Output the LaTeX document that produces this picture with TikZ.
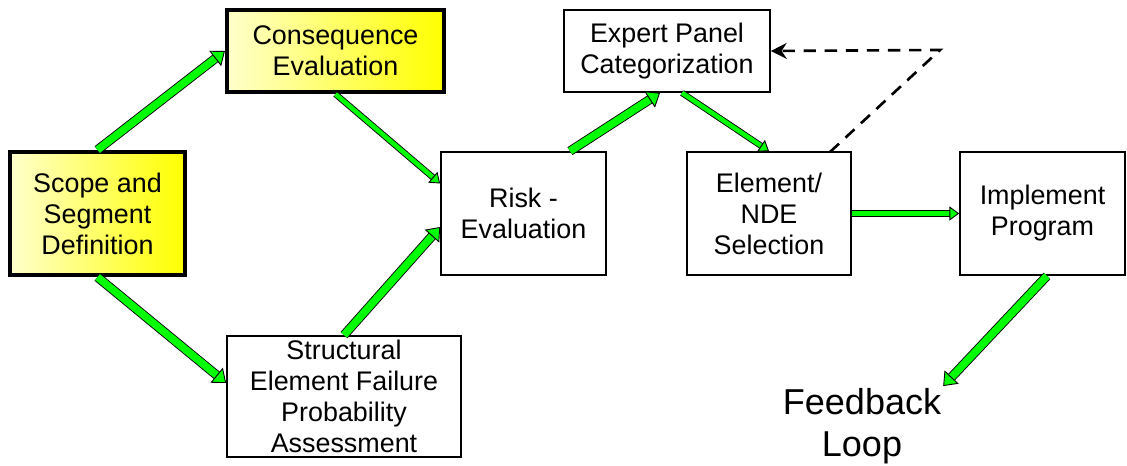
\documentclass[tikz,border=0pt]{standalone}
\usepackage{fontspec}
\setmainfont{Liberation Sans}
\usetikzlibrary{arrows.meta}
\begin{document}
\begin{tikzpicture}[x=0.02cm,y=-0.02cm,
  box/.style={draw=black,line width=1pt,fill=white,align=center,inner sep=2pt,
    font=\fontsize{15.3}{17.6}\selectfont},
  keybox/.style={box,line width=2.4pt,shading=axis,left color=yellow!20,right color=yellow},
  flow/.style={draw=black,line width=0.5pt,double=green,double distance=4.3pt,
    -{Triangle[length=7pt,width=11pt,fill=green,color=black,line width=0.5pt]}},
  thinflow/.style={flow,double distance=2.6pt,
    -{Triangle[length=5.5pt,width=8pt,fill=green,color=black,line width=0.5pt]}}]
\useasboundingbox (0,0) rectangle (1127,466);

\node (scope) [keybox,minimum width=3.5cm,minimum height=2.46cm] at (97.5,213.5)
  {Scope and\\Segment\\Definition};
\node (conseq) [keybox,minimum width=4.34cm,minimum height=1.64cm] at (335.5,51)
  {Consequence\\Evaluation};
\node (struct) [box,minimum width=4.68cm,minimum height=2.42cm] at (344,396.5)
  {Structural\\Element Failure\\Probability\\Assessment};
\node (risk) [box,minimum width=3.3cm,minimum height=2.46cm] at (523.5,213.5)
  {Risk -\\Evaluation};
\node (expert) [box,minimum width=4.12cm,minimum height=1.64cm] at (667,51)
  {Expert Panel\\Categorization};
\node (select) [box,minimum width=3.28cm,minimum height=2.46cm] at (769,213.5)
  {Element/\\NDE\\Selection};
\node (implement) [box,minimum width=3.3cm,minimum height=2.46cm] at (1042.5,213.5)
  {Implement\\Program};
\node (loop) [align=center,inner sep=1pt,font=\fontsize{20.5}{24}\selectfont] at (862,426)
  {Feedback\\Loop};

\coordinate (dstart) at (830,152);
\coordinate (dbend) at (940,50);

\draw [flow] (scope.north) -- (conseq.west);
\draw [flow] (scope.south) -- ([yshift=0.27cm]struct.west);
\draw [thinflow] (conseq.south) -- ([yshift=0.6cm]risk.west);
\draw [flow] (struct.north) -- ([yshift=-0.27cm]risk.west);
\draw [flow] ([xshift=0.93cm]risk.north) -- ([xshift=-0.14cm]expert.south);
\draw [thinflow] ([xshift=0.3cm]expert.south) -- (select.north);
\draw [thinflow] (select.east) -- (implement.west);
\draw [flow] ([xshift=0.09cm]implement.south) -- (loop.north east);

\draw [line width=1.5pt,dash pattern=on 7pt off 5pt,-{Stealth[length=9pt,width=9pt]}]
  (dstart) -- (dbend) -- (expert.east);
\end{tikzpicture}
\end{document}
